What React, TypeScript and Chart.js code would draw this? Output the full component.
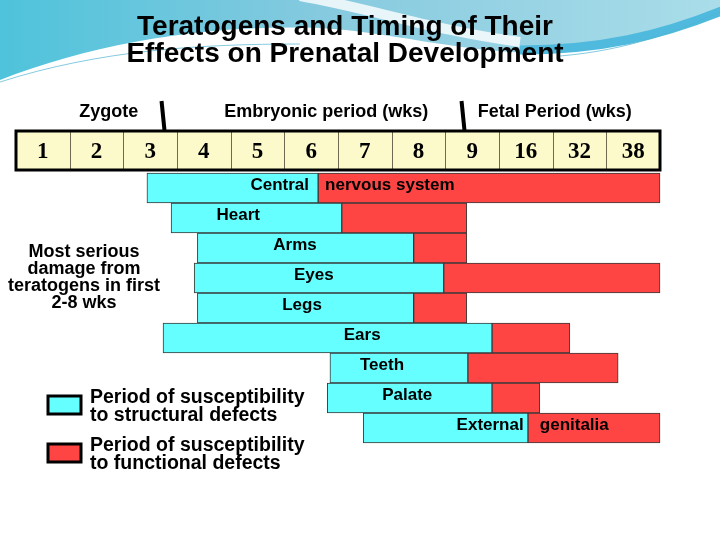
import React, { useEffect, useRef } from "react";
import { Chart, registerables } from "chart.js";

Chart.register(...registerables);

// ---------- data ----------
const categories = [
  "Central nervous system",
  "Heart",
  "Arms",
  "Eyes",
  "Legs",
  "Ears",
  "Teeth",
  "Palate",
  "External genitalia",
];
// x values are positions along the week table (0 = left edge of "1", 12 = right edge of "38")
const structural: [number, number][] = [
  [2.44, 5.63],
  [2.89, 6.07],
  [3.38, 7.41],
  [3.32, 7.97],
  [3.38, 7.41],
  [2.74, 8.87],
  [5.85, 8.42],
  [5.8, 8.87],
  [6.47, 9.54],
];
const functional: [number, number][] = [
  [5.63, 12],
  [6.07, 8.4],
  [7.41, 8.4],
  [7.97, 12],
  [7.41, 8.4],
  [8.87, 10.32],
  [8.42, 11.22],
  [8.87, 9.76],
  [9.54, 12],
];
const weekLabels = ["1", "2", "3", "4", "5", "6", "7", "8", "9", "16", "32", "38"];
const periodLabels = ["Zygote", "Embryonic period (wks)", "Fetal Period (wks)"];
const periodCenters = [1.73, 5.78, 10.04];
const periodDividers = [2.74, 8.33];
const barLabelText = ["Central", "nervous system", "Heart", "Arms", "Eyes", "Legs", "Ears", "Teeth", "Palate", "External", "genitalia"];
const barLabelRow = [0, 0, 1, 2, 3, 4, 5, 6, 7, 8, 8];
const barLabelPos = [5.46, 5.76, 4.14, 5.2, 5.55, 5.33, 6.45, 6.82, 7.29, 9.46, 9.76];
const barLabelAlign = ["right", "left", "center", "center", "center", "center", "center", "center", "center", "right", "left"];
const titleLines = ["Teratogens and Timing of Their", "Effects on Prenatal Development"];
const noteLines = ["Most serious", "damage from", "teratogens in first", "2-8 wks"];
const legendLines = [
  ["Period of susceptibility", "to structural defects"],
  ["Period of susceptibility", "to functional defects"],
];

const CYAN = "#66FFFF";
const RED = "#FF4444";
const SANS = '"Liberation Sans", Arial, Helvetica, sans-serif';
const SERIF = '"Liberation Serif", "Times New Roman", serif';

const decoPlugin = {
  id: "deco",
  beforeDraw(chart: any) {
    const ctx = chart.ctx as CanvasRenderingContext2D;
    ctx.save();
    ctx.fillStyle = "#ffffff";
    ctx.fillRect(0, 0, chart.width, chart.height);
    // top swoosh
    const g = ctx.createLinearGradient(0, 0, 720, 0);
    g.addColorStop(0, "#4ec3db");
    g.addColorStop(0.45, "#86cadf");
    g.addColorStop(1, "#aadde9");
    ctx.fillStyle = g;
    ctx.beginPath();
    ctx.moveTo(0, 0);
    ctx.lineTo(720, 0);
    ctx.lineTo(720, 14);
    ctx.bezierCurveTo(660, 38, 590, 54, 530, 53);
    ctx.bezierCurveTo(450, 50, 390, 32, 320, 28);
    ctx.bezierCurveTo(200, 24, 90, 45, 0, 80);
    ctx.closePath();
    ctx.fill();
    // white streak
    ctx.strokeStyle = "rgba(255,255,255,0.8)";
    ctx.lineWidth = 10;
    ctx.beginPath();
    ctx.moveTo(300, -4);
    ctx.bezierCurveTo(370, 8, 430, 30, 520, 42);
    ctx.stroke();
    // blue band right
    ctx.strokeStyle = "#4fbadd";
    ctx.lineWidth = 9;
    ctx.beginPath();
    ctx.moveTo(520, 50);
    ctx.bezierCurveTo(600, 50, 660, 36, 724, 10);
    ctx.stroke();
    // thin lines
    ctx.strokeStyle = "rgba(80,180,210,0.7)";
    ctx.lineWidth = 1;
    ctx.beginPath();
    ctx.moveTo(0, 82);
    ctx.bezierCurveTo(100, 50, 200, 44, 300, 44);
    ctx.stroke();
    ctx.beginPath();
    ctx.moveTo(560, 56);
    ctx.bezierCurveTo(630, 50, 680, 30, 720, 12);
    ctx.stroke();
    ctx.restore();
  },
  afterDraw(chart: any) {
    const ctx = chart.ctx as CanvasRenderingContext2D;
    const x = chart.scales.x;
    const y = chart.scales.y;
    ctx.save();
    ctx.fillStyle = "#000";

    // title
    ctx.font = `bold 28px ${SANS}`;
    ctx.textAlign = "center";
    ctx.textBaseline = "alphabetic";
    titleLines.forEach((t, i) => ctx.fillText(t, 345, 35 + i * 27));

    // period headers
    ctx.font = `bold 18px ${SANS}`;
    periodLabels.forEach((t, i) => ctx.fillText(t, x.getPixelForValue(periodCenters[i]), 117));
    ctx.strokeStyle = "#000";
    ctx.lineWidth = 4;
    periodDividers.forEach((d) => {
      const px = x.getPixelForValue(d);
      ctx.beginPath();
      ctx.moveTo(px - 1.5, 101);
      ctx.lineTo(px + 1.5, 131);
      ctx.stroke();
    });

    // week table
    const top = 131;
    const bot = 170;
    const left = x.getPixelForValue(0);
    const right = x.getPixelForValue(weekLabels.length);
    ctx.fillStyle = "#FCFACB";
    ctx.fillRect(left, top, right - left, bot - top);
    ctx.strokeStyle = "#6e6a50";
    ctx.lineWidth = 1;
    for (let i = 1; i < weekLabels.length; i++) {
      const px = Math.round(x.getPixelForValue(i)) + 0.5;
      ctx.beginPath();
      ctx.moveTo(px, top);
      ctx.lineTo(px, bot);
      ctx.stroke();
    }
    ctx.strokeStyle = "#000";
    ctx.lineWidth = 3;
    ctx.strokeRect(left, top, right - left, bot - top);
    ctx.fillStyle = "#000";
    ctx.font = `bold 23px ${SERIF}`;
    weekLabels.forEach((w, i) => ctx.fillText(w, x.getPixelForValue(i + 0.5), 158));

    // bar labels
    ctx.font = `bold 17px ${SANS}`;
    barLabelText.forEach((t, i) => {
      ctx.textAlign = barLabelAlign[i] as CanvasTextAlign;
      ctx.fillText(t, x.getPixelForValue(barLabelPos[i]), y.getPixelForValue(barLabelRow[i]) + 2);
    });

    // side note
    ctx.textAlign = "center";
    ctx.font = `bold 18px ${SANS}`;
    noteLines.forEach((t, i) => ctx.fillText(t, 84, 257 + i * 17));

    // legend
    const colors = chart.data.datasets.map((d: any) => d.backgroundColor);
    const boxTops = [396, 444];
    legendLines.forEach((lines, k) => {
      ctx.fillStyle = colors[k];
      ctx.fillRect(48, boxTops[k], 33, 18);
      ctx.strokeStyle = "#000";
      ctx.lineWidth = 3;
      ctx.strokeRect(48, boxTops[k], 33, 18);
      ctx.fillStyle = "#000";
      ctx.textAlign = "left";
      ctx.font = `bold 19.5px ${SANS}`;
      lines.forEach((t, j) => ctx.fillText(t, 90, boxTops[k] + 7 + j * 18));
    });
    ctx.restore();
  },
};

export default function App() {
  const ref = useRef<HTMLCanvasElement | null>(null);
  useEffect(() => {
    if (!ref.current) return;
    const chart = new Chart(ref.current, {
      type: "bar",
      data: {
        labels: categories,
        datasets: [
          {
            label: "Structural",
            data: structural as any,
            backgroundColor: CYAN,
            borderColor: "#3a3a3a",
            borderWidth: 1,
            borderSkipped: false,
            grouped: false,
            barPercentage: 1,
            categoryPercentage: 1,
            clip: false,
          } as any,
          {
            label: "Functional",
            data: functional as any,
            backgroundColor: RED,
            borderColor: "#3a3a3a",
            borderWidth: 1,
            borderSkipped: false,
            grouped: false,
            barPercentage: 1,
            categoryPercentage: 1,
            clip: false,
          } as any,
        ],
      },
      options: {
        indexAxis: "y",
        responsive: false,
        animation: false,
        devicePixelRatio: 1,
        layout: { padding: { left: 16, right: 60, top: 173, bottom: 97 } },
        scales: {
          x: { type: "linear", min: 0, max: 12, display: false },
          y: { type: "category", display: false, offset: true },
        },
        plugins: {
          legend: { display: false },
          tooltip: { enabled: false },
          title: { display: false },
        },
      },
      plugins: [decoPlugin],
    });
    return () => chart.destroy();
  }, []);
  return (
    <div style={{ position: "absolute", left: 0, top: 0, width: 720, height: 540, background: "#fff" }}>
      <canvas ref={ref} width={720} height={540} style={{ display: "block" }} />
    </div>
  );
}
